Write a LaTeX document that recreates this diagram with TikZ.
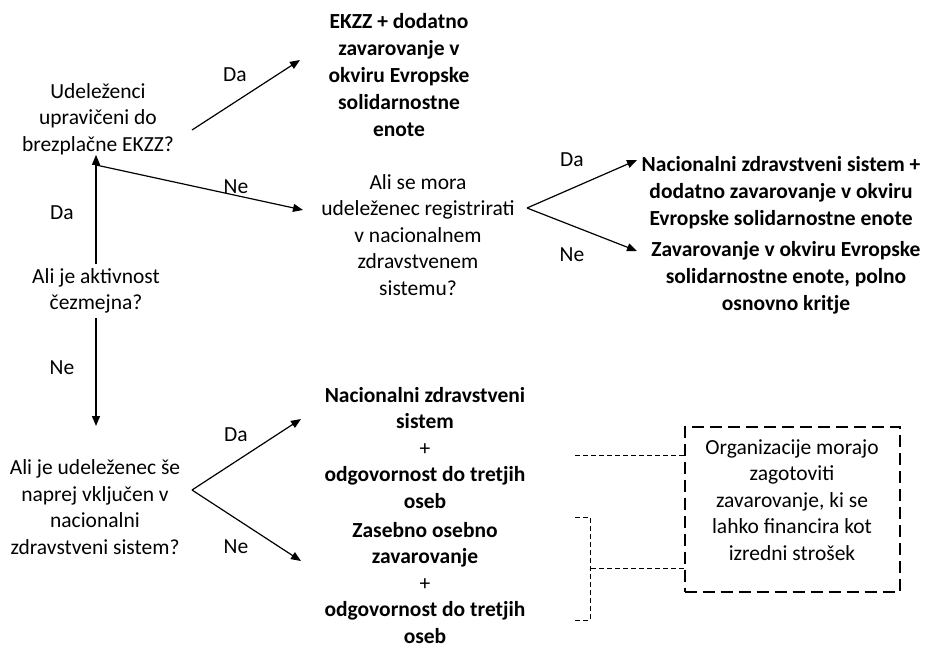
\documentclass[tikz,border=0pt]{standalone}
\usepackage{fontspec}
\setmainfont{Carlito}
\usepackage{tikz}
\usetikzlibrary{arrows.meta}

\tikzset{
    txt/.style={align=center, inner sep=0pt, font=\fontsize{21.5}{26.5}\selectfont},
    res/.style={txt, font=\fontsize{21.5}{27}\selectfont\bfseries},
    arr/.style={line width=1.2pt, -{Triangle[length=10pt,width=8pt]}},
    link/.style={line width=0.8pt, dash pattern=on 5pt off 3pt},
    notebox/.style={draw, line width=2pt, dash pattern=on 12pt off 6pt, minimum width=215pt, minimum height=165pt}
}

\begin{document}
\begin{tikzpicture}[x=1pt, y=-1pt]
        \useasboundingbox (0, 0) rectangle (928, 651);

        \node[txt] (q1) at (98, 119) {Udeleženci\\upravičeni do\\brezplačne EKZZ?};
        \node[res] (r1) at (399, 75) {EKZZ + dodatno\\zavarovanje v\\okviru Evropske\\solidarnostne\\enote};
        \node[txt] (q0) at (96, 291) {Ali je aktivnost\\čezmejna?};
        \node[txt] (q2) at (418, 235) {Ali se mora\\udeleženec registrirati\\v nacionalnem\\zdravstvenem\\sistemu?};
        \node[res] (r2) at (781, 193) {Nacionalni zdravstveni sistem +\\dodatno zavarovanje v okviru\\Evropske solidarnostne enote};
        \node[res] (r3) at (786, 278) {Zavarovanje v okviru Evropske\\solidarnostne enote, polno\\osnovno kritje};
        \node[txt] (q3) at (95, 507) {Ali je udeleženec še\\naprej vključen v\\nacionalni\\zdravstveni sistem?};
        \node[txt] (r4) at (425, 448) {\textbf{Nacionalni zdravstveni}\\\textbf{sistem}\\+\\\textbf{odgovornost do tretjih}\\\textbf{oseb}};
        \node[txt] (r5) at (425, 583) {\textbf{Zasebno osebno}\\\textbf{zavarovanje}\\+\\\textbf{odgovornost do tretjih}\\\textbf{oseb}};
        \node[notebox] (note) at (792, 509) {};
        \node[txt] (notetxt) at (792, 500) {Organizacije morajo\\zagotoviti\\zavarovanje, ki se\\lahko financira kot\\izredni strošek};

        \coordinate (q1da) at (192, 130);
        \coordinate (r1in) at (300, 60);
        \coordinate (q1ne) at (96, 165);
        \coordinate (q2in) at (303, 210);
        \coordinate (q2fork) at (527, 208);
        \coordinate (r2in) at (637, 160);
        \coordinate (r3in) at (637, 251);
        \coordinate (q3in) at (96, 426);
        \coordinate (q3fork) at (192, 490);
        \coordinate (r4in) at (301, 419);
        \coordinate (r5in) at (301, 561);
        \coordinate (r4out) at (575, 455);
        \coordinate (r5top) at (575, 517);
        \coordinate (r5bot) at (575, 620);

        \draw[arr] ([yshift=4pt]q0.north) -- (q0.north |- q1.south);
        \draw[arr] (q1da) -- (r1in);
        \draw[arr] (q1ne) -- (q2in);
        \draw[arr] (q2fork) -- (r2in);
        \draw[arr] (q2fork) -- (r3in);
        \draw[arr] ([yshift=-4pt]q0.south) -- (q3in);
        \draw[arr] (q3fork) -- (r4in);
        \draw[arr] (q3fork) -- (r5in);

        \draw[link] (r4out) -- (r4out -| note.west);
        \draw[link] (r5top) -- (590, 517) -- (590, 620) -- (r5bot);
        \draw[link] (591, 568) -- (note.west |- 0, 568);

        \node[txt] (da1) at (235, 75) {Da};
        \node[txt] (ne1) at (236, 187) {Ne};
        \node[txt] (da0) at (62, 213) {Da};
        \node[txt] (ne0) at (62, 368) {Ne};
        \node[txt] (da2) at (572, 160) {Da};
        \node[txt] (ne2) at (572, 255) {Ne};
        \node[txt] (da3) at (236, 435) {Da};
        \node[txt] (ne3) at (236, 547) {Ne};

    \end{tikzpicture}
\end{document}
